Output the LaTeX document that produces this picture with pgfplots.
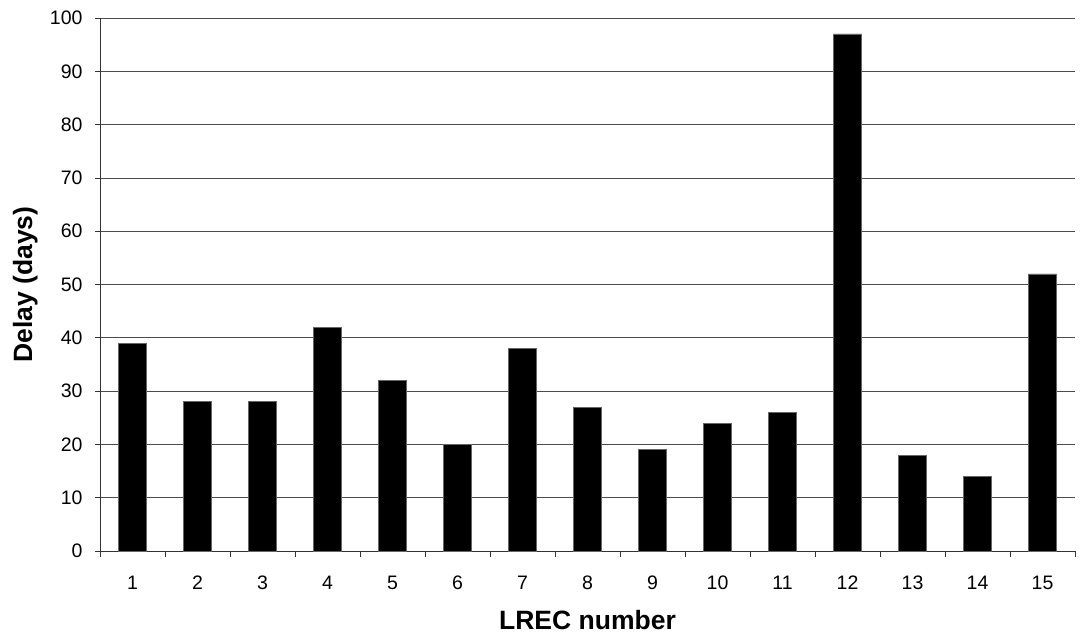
\documentclass[border=0pt]{standalone}
\usepackage{pgfplots}
\pgfplotsset{compat=1.18}
\usepackage{fontspec}
\setmainfont{Liberation Sans}
\begin{document}
\begin{tikzpicture}
\useasboundingbox (-100pt,-90pt) rectangle (983pt,551pt);
\begin{axis}[
  at={(0,0)}, anchor=south west,
  scale only axis, width=975pt, height=533pt,
  ybar, bar width=28pt,
  xmin=0.5, xmax=15.5, ymin=0, ymax=100,
  axis x line=bottom, axis y line=left,
  axis line style={-, draw=black!80, line width=0.8pt},
  xtick={1,...,15},
  minor xtick={0.5,1.5,...,15.5},
  major x tick style={draw=none},
  minor x tick style={draw=black!80, line width=0.8pt},
  minor tick length=6pt,
  ytick={0,10,...,100},
  major y tick style={draw=black!80, line width=0.8pt},
  major tick length=5pt,
  tick align=outside,
  ymajorgrids, grid style={draw=black!70, line width=0.8pt},
  /pgf/number format/assume math mode=true,
  xticklabel style={font=\fontsize{19.5}{22}\selectfont, anchor=base, yshift=-33pt},
  yticklabel style={font=\fontsize{19.5}{22}\selectfont, anchor=east, xshift=-9pt},
  xlabel={LREC number}, ylabel={Delay (days)},
  every axis x label/.style={at={(axis description cs:0.5,-0.148)}, anchor=base, font=\fontsize{26.5}{30}\selectfont\bfseries},
  every axis y label/.style={at={(axis description cs:-0.0697,0.5)}, anchor=base, rotate=90, font=\fontsize{26.5}{30}\selectfont\bfseries},
]
\addplot[fill=black, draw=black!60, line width=0.6pt] coordinates {
(1,39) (2,28) (3,28) (4,42) (5,32) (6,20) (7,38) (8,27) (9,19) (10,24) (11,26) (12,97) (13,18) (14,14) (15,52)
};
\end{axis}
\end{tikzpicture}
\end{document}
